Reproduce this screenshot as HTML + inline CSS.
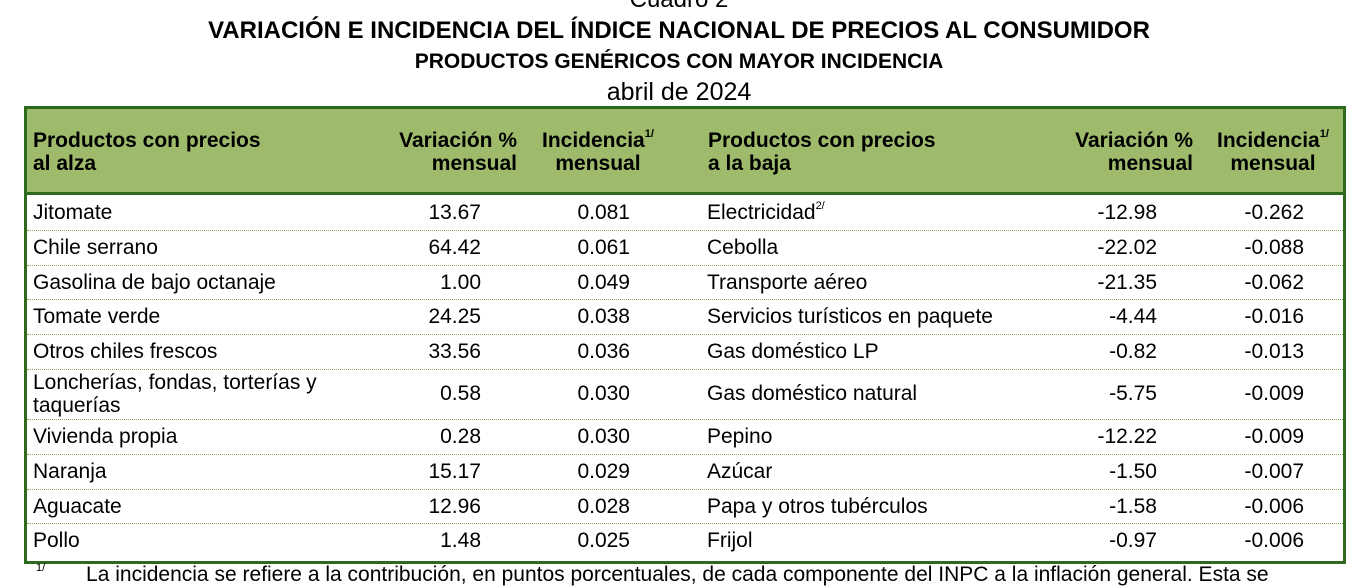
<!DOCTYPE html>
<html><head><meta charset="utf-8"><style>
body{margin:0;width:1358px;height:574px;overflow:hidden;background:#fff;font-family:"Liberation Sans",Arial,sans-serif;color:#000;position:relative}
.t{position:absolute;left:0;width:1358px;text-align:center;white-space:nowrap}
#tbl{position:absolute;left:24px;top:106px;width:1316px;height:452px;border:3px solid #2d6a1e;box-sizing:content-box}
#hdr{position:absolute;left:0;top:0;width:1316px;height:83px;background:#9ebb6b;border-bottom:3px solid #2d6a1e}
.c{position:absolute;font-size:21px;line-height:23px;white-space:nowrap}
.h{font-weight:bold}
.r{text-align:right}
.row{position:absolute;left:0;width:1316px;border-bottom:1px dotted #8aa85a}
sup{font-size:11px;vertical-align:top;line-height:11px}
</style></head><body>
<div class="t" style="top:-14px;font-size:24px">Cuadro 2</div>
<div class="t" style="top:17px;font-size:24px;font-weight:bold">VARIACIÓN E INCIDENCIA DEL ÍNDICE NACIONAL DE PRECIOS AL CONSUMIDOR</div>
<div class="t" style="top:50px;font-size:21px;font-weight:bold">PRODUCTOS GENÉRICOS CON MAYOR INCIDENCIA</div>
<div class="t" style="top:78px;font-size:25px">abril de 2024</div>
<div id="tbl">
<div id="hdr">
<div class="c h" style="left:6px;top:20px">Productos con precios<br>al alza</div>
<div class="c h r" style="right:826px;top:20px">Variación %<br>mensual</div>
<div class="c h" style="left:515px;top:20px;text-align:center">Incidencia<sup>1/</sup><br>mensual</div>
<div class="c h" style="left:681px;top:20px">Productos con precios<br>a la baja</div>
<div class="c h r" style="right:150px;top:20px">Variación %<br>mensual</div>
<div class="c h" style="left:1190px;top:20px;text-align:center">Incidencia<sup>1/</sup><br>mensual</div>
</div>
<div id="body"></div>
</div>
<div class="t" style="top:563px;left:36px;text-align:left;font-size:21px"><sup>1/</sup>&nbsp;&nbsp;&nbsp;&nbsp;&nbsp;&nbsp;&nbsp;La incidencia se refiere a la contribución, en puntos porcentuales, de cada componente del INPC a la inflación general. Esta se</div>
<script>
const up=["Jitomate","Chile serrano","Gasolina de bajo octanaje","Tomate verde","Otros chiles frescos","Loncherías, fondas, torterías y<br>taquerías","Vivienda propia","Naranja","Aguacate","Pollo"];
const upVar=["13.67","64.42","1.00","24.25","33.56","0.58","0.28","15.17","12.96","1.48"];
const upInc=["0.081","0.061","0.049","0.038","0.036","0.030","0.030","0.029","0.028","0.025"];
const down=["Electricidad<sup>2/</sup>","Cebolla","Transporte aéreo","Servicios turísticos en paquete","Gas doméstico LP","Gas doméstico natural","Pepino","Azúcar","Papa y otros tubérculos","Frijol"];
const downVar=["-12.98","-22.02","-21.35","-4.44","-0.82","-5.75","-12.22","-1.50","-1.58","-0.97"];
const downInc=["-0.262","-0.088","-0.062","-0.016","-0.013","-0.009","-0.009","-0.007","-0.006","-0.006"];
const b=document.getElementById('body');
let y=86;
for(let i=0;i<up.length;i++){
 const two=i==5;
 const h=two?50:34.8;
 const row=document.createElement('div');
 
 
 row.className='row';row.style.top=y+'px';row.style.height=h+'px';
 if(i==up.length-1)row.style.borderBottom='none';
 const cy=two?2:6;
 const ty=two?13:6;
 row.innerHTML=`<div class="c" style="left:6px;top:${cy}px">${up[i]}</div>
<div class="c r" style="right:862px;top:${ty}px">${upVar[i]}</div>
<div class="c r" style="right:713px;top:${ty}px">${upInc[i]}</div>
<div class="c" style="left:680px;top:${ty}px">${down[i]}</div>
<div class="c r" style="right:186px;top:${ty}px">${downVar[i]}</div>
<div class="c r" style="right:39px;top:${ty}px">${downInc[i]}</div>`;
 b.appendChild(row);
 y+=h;
}
</script>
</body></html>
